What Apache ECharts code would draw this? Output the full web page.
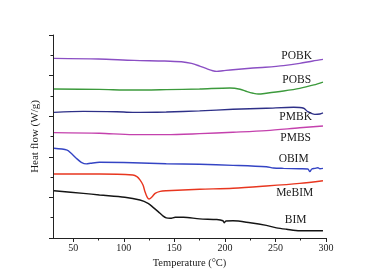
<!DOCTYPE html>
<html>
<head>
<meta charset="utf-8">
<style>
  html, body { margin: 0; padding: 0; background: #fff; }
  #chart { width: 374px; height: 275px; }
</style>
<script src="https://cdn.jsdelivr.net/npm/echarts@6/dist/echarts.min.js"></script>
</head>
<body>
<div id="chart"></div>
<script>
// temperatures (°C) and heat flow (offset, arbitrary units)
var pobkT = [31, 75, 110, 140, 157, 167, 175, 182, 188, 192, 198, 208, 225, 240, 258, 274, 287, 297];
var pobkV = [8.85, 8.82, 8.75, 8.72, 8.68, 8.60, 8.47, 8.34, 8.24, 8.21, 8.24, 8.29, 8.36, 8.41, 8.49, 8.60, 8.72, 8.80];

var pobsT = [31, 76, 109, 142, 175, 205, 215, 222, 228, 233, 241, 258, 274, 288, 297];
var pobsV = [7.34, 7.32, 7.29, 7.31, 7.34, 7.39, 7.33, 7.21, 7.13, 7.09, 7.13, 7.24, 7.37, 7.54, 7.68];

var pmbkT = [31, 60, 93, 109, 142, 175, 208, 241, 268, 278, 282, 289, 294, 297];
var pmbkV = [6.19, 6.24, 6.22, 6.19, 6.21, 6.26, 6.34, 6.39, 6.44, 6.39, 6.22, 6.09, 6.11, 6.16];

var pmbsT = [31, 76, 109, 142, 175, 208, 241, 274, 297];
var pmbsV = [5.19, 5.16, 5.09, 5.09, 5.14, 5.21, 5.29, 5.43, 5.52];

var obimT = [31, 44, 48, 53, 58, 63, 67, 76, 109, 142, 175, 208, 241, 248, 258, 274, 282, 284, 286, 289, 292, 294, 297];
var obimV = [4.42, 4.33, 4.17, 3.93, 3.73, 3.65, 3.68, 3.73, 3.71, 3.66, 3.63, 3.58, 3.51, 3.45, 3.43, 3.41, 3.40, 3.27, 3.40, 3.43, 3.46, 3.41, 3.43];

var mebimT = [31, 76, 109, 113, 116, 119, 121, 123, 125, 128, 131, 136, 142, 175, 208, 241, 274, 297];
var mebimV = [3.15, 3.15, 3.10, 3.02, 2.86, 2.61, 2.28, 2.03, 1.92, 2.03, 2.20, 2.30, 2.33, 2.40, 2.45, 2.56, 2.69, 2.82];

var bimT = [31, 60, 76, 101, 116, 124, 129, 134, 139, 142, 146, 151, 159, 175, 192, 198, 199.5, 201, 208, 225, 241, 251, 261, 274, 288, 297];
var bimV = [2.33, 2.20, 2.12, 2.01, 1.87, 1.71, 1.51, 1.30, 1.08, 0.99, 0.97, 1.02, 1.02, 0.94, 0.91, 0.85, 0.75, 0.84, 0.85, 0.75, 0.62, 0.50, 0.43, 0.36, 0.36, 0.36];

var names = ['POBK', 'POBS', 'PMBK', 'PMBS', 'OBIM', 'MeBIM', 'BIM'];
// where each curve's name sits, in data units [T, heat flow]
var labelAt = [[271, 8.97], [271, 7.78], [270, 5.96], [270, 4.93], [268, 3.89], [269, 2.22], [270, 0.89]];

var xTicks = [50, 100, 150, 200, 250, 300];
var xMinorTicks = [75, 125, 175, 225, 275];

var colors = ['#8b4fc4', '#3c9a3c', '#2e3088', '#c441ad', '#3444c4', '#e8361f', '#141414'];
var serif = '"Liberation Serif", "DejaVu Serif", serif';

var temps = [pobkT, pobsT, pmbkT, pmbsT, obimT, mebimT, bimT];
var flows = [pobkV, pobsV, pmbkV, pmbsV, obimV, mebimV, bimV];

function zip(a, b) {
  return a.map(function(t, i) { return [t, b[i]]; });
}

var series = names.map(function(n, i) {
  return {
    name: n,
    type: 'line',
    data: zip(temps[i], flows[i]),
    smooth: 0.3,
    showSymbol: false,
    lineStyle: { color: colors[i], width: 1.4 },
    markPoint: {
      symbol: 'circle',
      symbolSize: 0,
      silent: true,
      data: [{ coord: labelAt[i] }],
      label: {
        show: true,
        position: 'inside',
        formatter: n,
        color: '#1a1a1a',
        fontFamily: serif,
        fontSize: 11.5
      }
    }
  };
});

var chart = echarts.init(document.getElementById('chart'), null, { renderer: 'canvas' });
chart.setOption({
  animation: false,
  grid: { left: 53, right: 48, top: 35, bottom: 37 },
  xAxis: [{
    type: 'value',
    min: 30,
    max: 300,
    name: 'Temperature (°C)',
    nameLocation: 'middle',
    nameGap: 17,
    nameTextStyle: { fontFamily: serif, fontSize: 10.5, color: '#1a1a1a' },
    axisLine: { lineStyle: { color: '#222', width: 1 } },
    axisTick: { customValues: xTicks, length: 4, lineStyle: { color: '#222' } },
    axisLabel: { customValues: xTicks, fontFamily: serif, fontSize: 10, color: '#1a1a1a', margin: 5 },
    splitLine: { show: false }
  }, {
    type: 'value',
    position: 'bottom',
    min: 30,
    max: 300,
    axisLine: { show: false },
    axisTick: { customValues: xMinorTicks, length: 2.5, lineStyle: { color: '#222' } },
    axisLabel: { show: false },
    splitLine: { show: false }
  }],
  yAxis: {
    type: 'value',
    min: 0,
    max: 10,
    interval: 2,
    name: 'Heat flow (W/g)',
    nameLocation: 'middle',
    nameGap: 12,
    nameTextStyle: { fontFamily: serif, fontSize: 11, color: '#1a1a1a' },
    axisLine: { show: true, lineStyle: { color: '#222', width: 1 } },
    axisTick: { show: true, length: 4, lineStyle: { color: '#222' } },
    minorTick: { show: true, splitNumber: 2, length: 2.5, lineStyle: { color: '#222' } },
    axisLabel: { show: false },
    splitLine: { show: false }
  },
  series: series
});
window.addEventListener('resize', function() { chart.resize(); });
</script>
</body>
</html>
